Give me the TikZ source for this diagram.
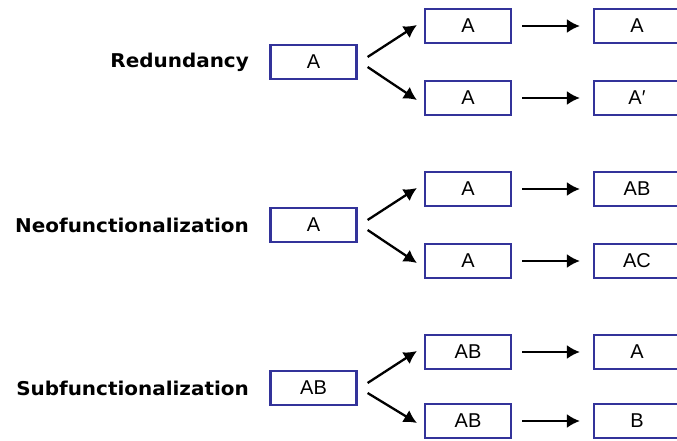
\documentclass[tikz,border=0pt]{standalone}
\usepackage{fontspec}
\setmainfont{Liberation Sans}
\newfontfamily\labfont{DejaVu Sans}[FakeStretch=1.05]
\usetikzlibrary{arrows.meta,calc}
\definecolor{boxblue}{HTML}{33339A}
\tikzset{
  gbox/.style={draw=boxblue, line width=2.2pt, minimum width=86pt, minimum height=34pt, inner sep=0pt, font=\fontsize{20}{24}\selectfont},
  lab/.style={anchor=east, inner sep=0pt, font=\labfont\bfseries\fontsize{19}{22}\selectfont},
  arr/.style={line width=2.3pt, -{Latex[length=13pt,width=14pt]}},
}
\begin{document}
\begin{tikzpicture}[x=1pt,y=-1pt]
\useasboundingbox (0,0) rectangle (677,441);
% row 1
\node[lab] (l1) at (249,62) {Redundancy};
\node[gbox] (a0) at (313.5,62) {A};
\node[gbox] (a1) at (468,26) {A};
\node[gbox] (a2) at (468,98) {A};
\node[gbox] (a3) at (637,26) {A};
\node[gbox] (a4) at (637,98) {A\char"2032};
\draw[arr] ($(a0.east)+(10,-5)$) -- ($(a1.west)+(-7,-1)$);
\draw[arr] ($(a0.east)+(10,5)$) -- ($(a2.west)+(-7,2)$);
\draw[arr, shorten <=10pt, shorten >=13pt] (a1) -- (a3);
\draw[arr, shorten <=10pt, shorten >=13pt] (a2) -- (a4);
% row 2
\node[lab] (l2) at (249,225) {Neofunctionalization};
\node[gbox] (b0) at (313.5,225) {A};
\node[gbox] (b1) at (468,189) {A};
\node[gbox] (b2) at (468,261) {A};
\node[gbox] (b3) at (637,189) {AB};
\node[gbox] (b4) at (637,261) {AC};
\draw[arr] ($(b0.east)+(10,-5)$) -- ($(b1.west)+(-7,-1)$);
\draw[arr] ($(b0.east)+(10,5)$) -- ($(b2.west)+(-7,2)$);
\draw[arr, shorten <=10pt, shorten >=13pt] (b1) -- (b3);
\draw[arr, shorten <=10pt, shorten >=13pt] (b2) -- (b4);
% row 3
\node[lab] (l3) at (249,388) {Subfunctionalization};
\node[gbox] (c0) at (313.5,388) {AB};
\node[gbox] (c1) at (468,352) {AB};
\node[gbox] (c2) at (468,421) {AB};
\node[gbox] (c3) at (637,352) {A};
\node[gbox] (c4) at (637,421) {B};
\draw[arr] ($(c0.east)+(10,-5)$) -- ($(c1.west)+(-7,-1)$);
\draw[arr] ($(c0.east)+(10,5)$) -- ($(c2.west)+(-7,2)$);
\draw[arr, shorten <=10pt, shorten >=13pt] (c1) -- (c3);
\draw[arr, shorten <=10pt, shorten >=13pt] (c2) -- (c4);
\end{tikzpicture}
\end{document}
